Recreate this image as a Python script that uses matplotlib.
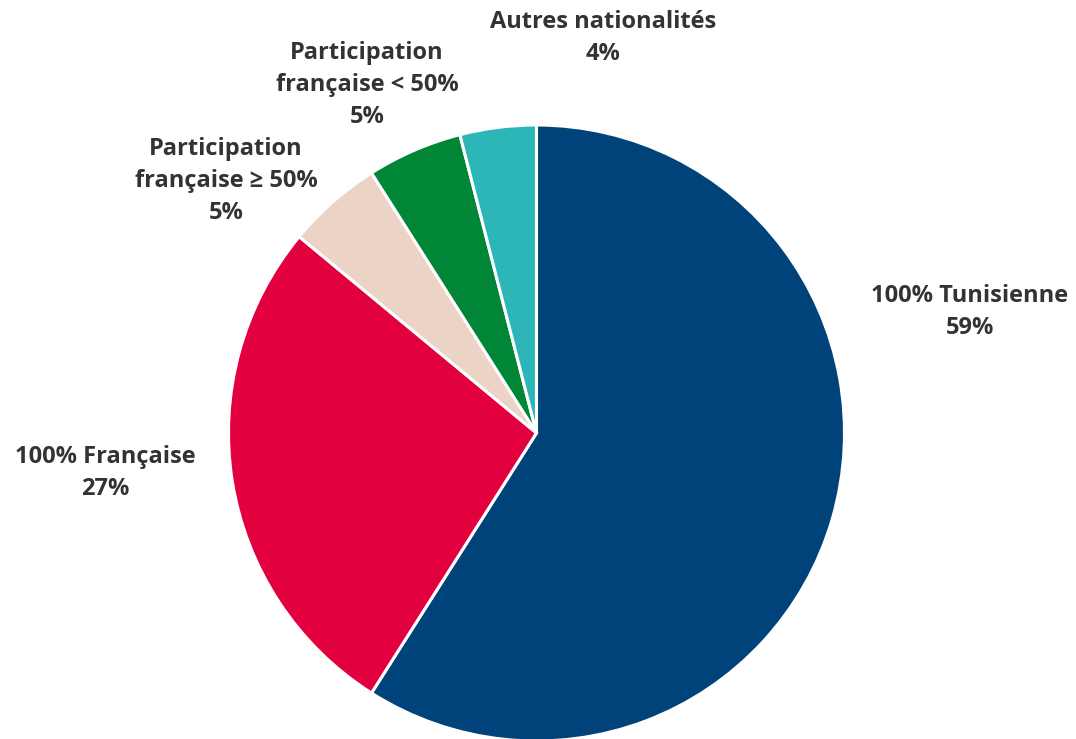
"""
Répartition des entreprises par nationalité du capital (camembert).
"""

import matplotlib
matplotlib.use("Agg")
import matplotlib.pyplot as plt

categories = ["100% Tunisienne", "100% Française",
              "Participation\nfrançaise ≥ 50%", "Participation\nfrançaise < 50%",
              "Autres nationalités"]
shares = [59, 27, 5, 5, 4]
colors = ["#00427a", "#e2003f", "#ebd3c5", "#008636", "#2cb6b8"]

# label anchors in image pixels (x from left, y from top)
label_xy = [(970, 312), (105, 473), (226, 181), (367, 85), (603, 38)]

W, H = 1076, 739
CX, CY, R = 536.5, 433, 308

plt.rcParams["font.family"] = ["Open Sans", "DejaVu Sans"]

fig = plt.figure(figsize=(W / 100, H / 100), dpi=100)
ax = fig.add_axes([0, 0, 1, 1])

ax.pie(shares, colors=colors, startangle=90, counterclock=False,
       center=(CX, H - CY), radius=R,
       wedgeprops=dict(edgecolor="white", linewidth=2.2))

for lab, val, (x, y) in zip(categories, shares, label_xy):
    ax.text(x, H - y, f"{lab}\n{val}%", ha="center", va="center",
            fontsize=17, fontweight="bold", color="#333333", linespacing=1.45)

ax.set_xlim(0, W); ax.set_ylim(0, H)
ax.set_aspect("equal")
ax.axis("off")

plt.savefig("out.png", dpi=100, facecolor="white")
plt.close()
